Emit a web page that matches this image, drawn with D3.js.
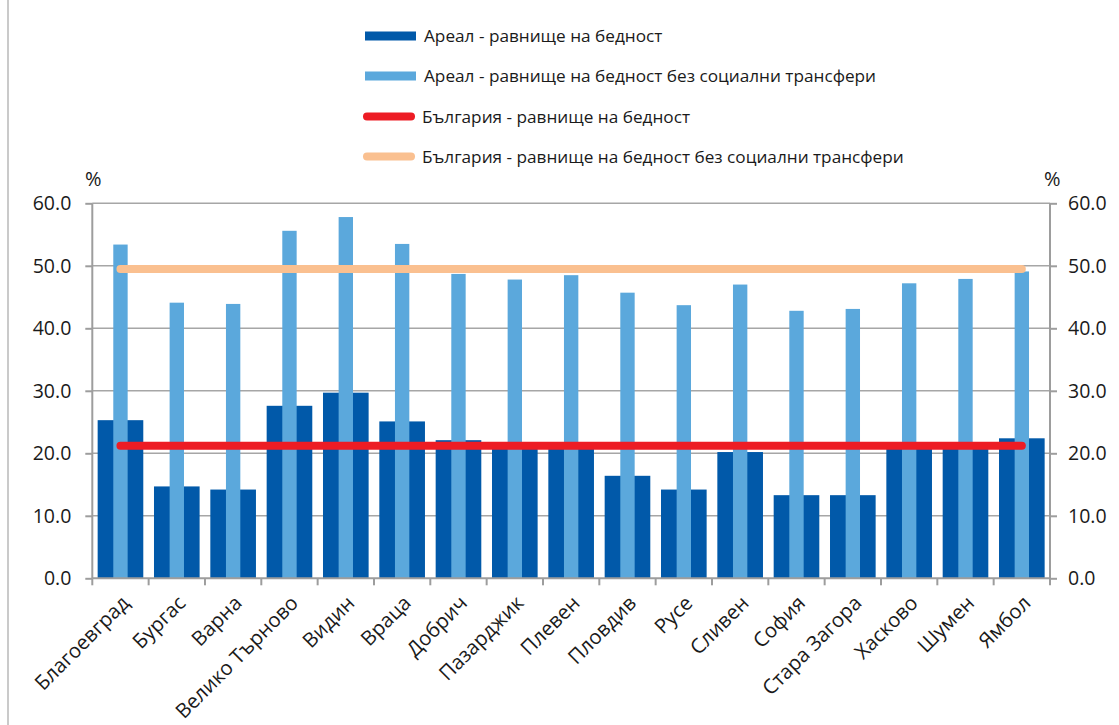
<!DOCTYPE html>
<html>
<head>
<meta charset="utf-8">
<script src="https://cdn.jsdelivr.net/npm/d3@7"></script>
<style>
  html, body { margin: 0; padding: 0; background: #fff; }
  svg { display: block; }
  text { font-family: "Open Sans", "Noto Sans", sans-serif; fill: #1a1a1a; }
</style>
</head>
<body>
<svg id="chart" width="1119" height="725"></svg>
<script>
const categories = ["Благоевград", "Бургас", "Варна", "Велико Търново", "Видин", "Враца", "Добрич", "Пазарджик", "Плевен", "Пловдив", "Русе", "Сливен", "София", "Стара Загора", "Хасково", "Шумен", "Ямбол"];
const povertyArea = [25.3, 14.7, 14.2, 27.6, 29.7, 25.1, 22.1, 20.7, 20.7, 16.4, 14.2, 20.2, 13.3, 13.3, 20.7, 20.7, 22.4];
const povertyAreaNoTransfers = [53.4, 44.1, 43.9, 55.6, 57.8, 53.5, 48.7, 47.8, 48.5, 45.7, 43.7, 47.0, 42.8, 43.1, 47.2, 47.9, 49.1];
const bulgariaPoverty = 21.2;
const bulgariaPovertyNoTransfers = 49.5;
const yTicks = [0, 10, 20, 30, 40, 50, 60];
const seriesNames = [
  "Ареал - равнище на бедност",
  "Ареал - равнище на бедност без социални трансфери",
  "България - равнище на бедност",
  "България - равнище на бедност без социални трансфери"
];

const colDark = "#0159a9", colLight = "#5ba8dc", colRed = "#ed1c24", colOrange = "#fac090";
const gridCol = "#a6a6a6";

const svg = d3.select("#chart");
const pLeft = 92.3, pRight = 1050, pTop = 203.3, pBottom = 578.3;

// border
svg.append("line").attr("x1", 8).attr("x2", 8).attr("y1", 0).attr("y2", 725).attr("stroke", "#b8b8b8").attr("stroke-width", 1.5);

const x = d3.scaleBand().domain(categories).range([pLeft, pRight]).paddingInner(0.19).paddingOuter(0.095);
const y = d3.scaleLinear().domain([0, 60]).range([pBottom, pTop]);
const step = x.step();

// gridlines
svg.append("g").selectAll("line").data(yTicks.filter(t => t > 0)).join("line")
  .attr("x1", pLeft).attr("x2", pRight)
  .attr("y1", d => y(d)).attr("y2", d => y(d))
  .attr("stroke", gridCol).attr("stroke-width", 1.6);

// dark bars
svg.append("g").selectAll("rect").data(categories).join("rect")
  .attr("x", c => x(c)).attr("width", x.bandwidth())
  .attr("y", (c, i) => y(povertyArea[i])).attr("height", (c, i) => y(0) - y(povertyArea[i]))
  .attr("fill", colDark);

// light bars
const lw = step * 0.255;
svg.append("g").selectAll("rect").data(categories).join("rect")
  .attr("x", c => x(c) + x.bandwidth() / 2 - lw / 2).attr("width", lw)
  .attr("y", (c, i) => y(povertyAreaNoTransfers[i])).attr("height", (c, i) => y(0) - y(povertyAreaNoTransfers[i]))
  .attr("fill", colLight);

// reference lines
const cx = c => x(c) + x.bandwidth() / 2;
const line = d3.line().x(d => cx(d.c)).y(d => y(d.v));
[[bulgariaPovertyNoTransfers, colOrange], [bulgariaPoverty, colRed]].forEach(([v, col]) => {
  svg.append("path")
    .datum(categories.map(c => ({ c, v })))
    .attr("d", line).attr("fill", "none").attr("stroke", col)
    .attr("stroke-width", 8).attr("stroke-linecap", "round");
});

// axes
const axisCol = "#9d9d9d";
const yl = d3.axisLeft(y).tickValues(yTicks).tickFormat(d3.format(".1f")).tickSize(7).tickPadding(14);
const yr = d3.axisRight(y).tickValues(yTicks).tickFormat(d3.format(".1f")).tickSize(7).tickPadding(11);
const gl = svg.append("g").attr("transform", `translate(${pLeft},0)`).call(yl);
const gr = svg.append("g").attr("transform", `translate(${pRight},0)`).call(yr);
[gl, gr].forEach(g => {
  g.select(".domain").attr("stroke", axisCol).attr("stroke-width", 2).attr("d", `M0,${pTop}V${pBottom}`);
  g.selectAll(".tick line").attr("stroke", axisCol).attr("stroke-width", 2);
  g.selectAll(".tick text").attr("font-size", 19.5).attr("fill", "#1a1a1a").attr("font-family", "Open Sans, sans-serif");
});

// bottom axis
const gb = svg.append("g");
gb.append("line").attr("x1", pLeft).attr("x2", pRight).attr("y1", pBottom).attr("y2", pBottom).attr("stroke", axisCol).attr("stroke-width", 2);
const bounds = categories.map(c => x(c) - x.paddingInner() * step / 2).concat([pRight]);
gb.selectAll("line.t").data(bounds).join("line").attr("class", "t")
  .attr("x1", d => d).attr("x2", d => d).attr("y1", pBottom).attr("y2", pBottom + 7)
  .attr("stroke", axisCol).attr("stroke-width", 2);
gb.selectAll("text").data(categories).join("text")
  .attr("transform", c => `translate(${cx(c) + 5},${pBottom + 21}) rotate(-45)`)
  .attr("text-anchor", "end").attr("dy", "0.35em")
  .attr("font-size", 20.3).text(c => c);

// % labels
svg.append("text").attr("x", 85).attr("y", 186).attr("font-size", 20).text("%");
svg.append("text").attr("x", 1044).attr("y", 186).attr("font-size", 20).text("%");

// legend
const legY = [36, 76, 116.5, 156.5];
const lg = svg.append("g");
seriesNames.forEach((name, i) => {
  if (i < 2) {
    lg.append("rect").attr("x", 365).attr("y", legY[i] - 4.5).attr("width", 51).attr("height", 9)
      .attr("fill", i === 0 ? colDark : colLight);
  } else {
    lg.append("line").attr("x1", 367).attr("x2", 411).attr("y1", legY[i]).attr("y2", legY[i])
      .attr("stroke", i === 2 ? colRed : colOrange).attr("stroke-width", 8).attr("stroke-linecap", "round");
  }
  lg.append("text").attr("x", i < 2 ? 424 : 422).attr("y", legY[i]).attr("dy", "0.35em")
    .attr("font-size", 17.2).text(name);
});
</script>
</body>
</html>
